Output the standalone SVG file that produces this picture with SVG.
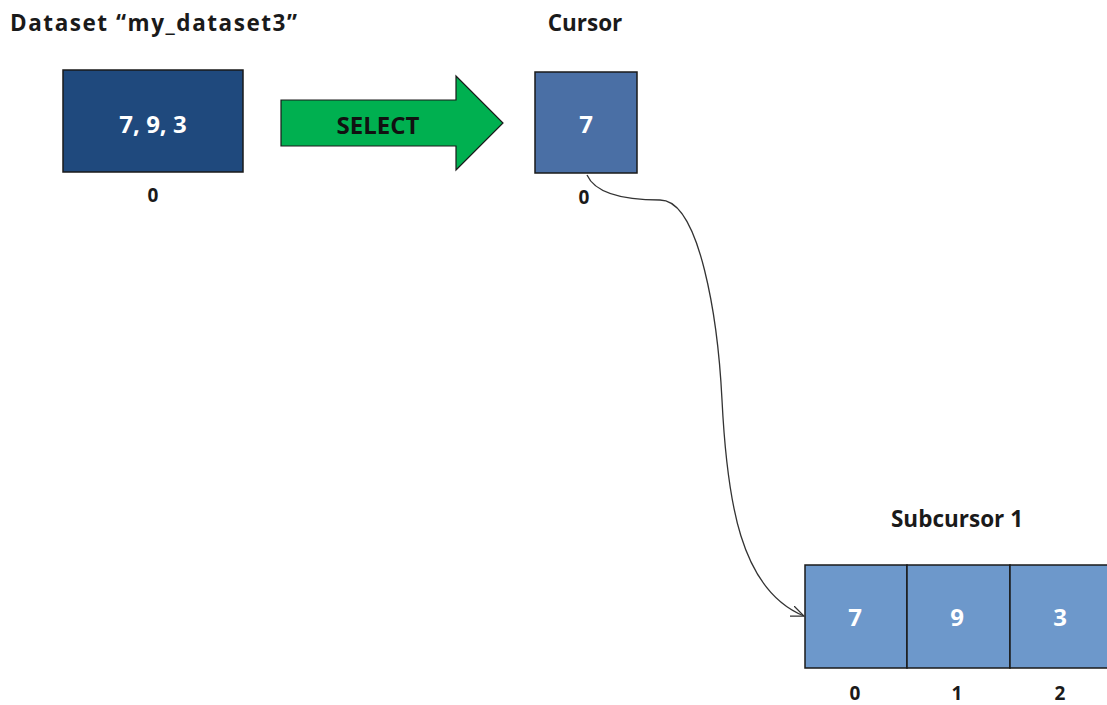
<svg xmlns="http://www.w3.org/2000/svg" width="1107" height="705" viewBox="0 0 1107 705">
<defs>
<style>
.t{font-family:"Open Sans",Lato,"Liberation Sans",sans-serif;font-weight:bold;text-anchor:middle}
.title{font-size:22.5px;fill:#1a1a1a}
.val{font-size:24px;fill:#ffffff}
.idx{font-size:19px;fill:#1a1a1a}
.box{stroke:#1a1a1a;stroke-width:1.5}
.conn{fill:none;stroke:#333333;stroke-width:1.3}
</style>
<marker id="open" viewBox="0 0 14 12" refX="13" refY="6" markerWidth="14" markerHeight="12" markerUnits="userSpaceOnUse" orient="auto">
<path d="M0,0.5 L13,6 L0,11.5" fill="none" stroke="#333333" stroke-width="1.3"/>
</marker>
</defs>
<rect width="1107" height="705" fill="#ffffff"/>
<g id="dataset">
<text class="t title" x="10" y="31" style="text-anchor:start" textLength="287" lengthAdjust="spacing">Dataset “my_dataset3”</text>
<rect class="box" x="63" y="70" width="180" height="102" fill="#1f497d"/>
<text class="t val" x="153" y="133">7, 9, 3</text>
<text class="t idx" x="153" y="202">0</text>
</g>
<g id="select">
<polygon points="281,100 456,100 456,76 503,123 456,170 456,146 281,146" fill="#00b050" stroke="#1a1a1a" stroke-width="1.2"/>
<text class="t" x="378" y="134" style="font-size:24px;fill:#111111">SELECT</text>
</g>
<g id="cursor">
<text class="t title" x="585" y="31">Cursor</text>
<rect class="box" x="535" y="72" width="102" height="101" fill="#4a6fa5"/>
<text class="t val" x="586" y="133">7</text>
<text class="t idx" x="584" y="204">0</text>
</g>
<g id="subcursor">
<text class="t title" x="957" y="527">Subcursor 1</text>
<rect class="box" x="805" y="565" width="102" height="103" fill="#6d98cb"/>
<rect class="box" x="907" y="565" width="103" height="103" fill="#6d98cb"/>
<rect class="box" x="1010" y="565" width="103" height="103" fill="#6d98cb"/>
<text class="t val" x="855" y="626">7</text>
<text class="t val" x="957" y="626">9</text>
<text class="t val" x="1060" y="626">3</text>
<text class="t idx" x="855" y="700">0</text>
<text class="t idx" x="957" y="700">1</text>
<text class="t idx" x="1060" y="700">2</text>
</g>
<g id="connectors">
<path class="conn" d="M587,175 C596,195 630,200 660,200 C700,200 718,320 722,400 C727,500 740,590 804,616" marker-end="url(#open)"/>
</g>
</svg>
